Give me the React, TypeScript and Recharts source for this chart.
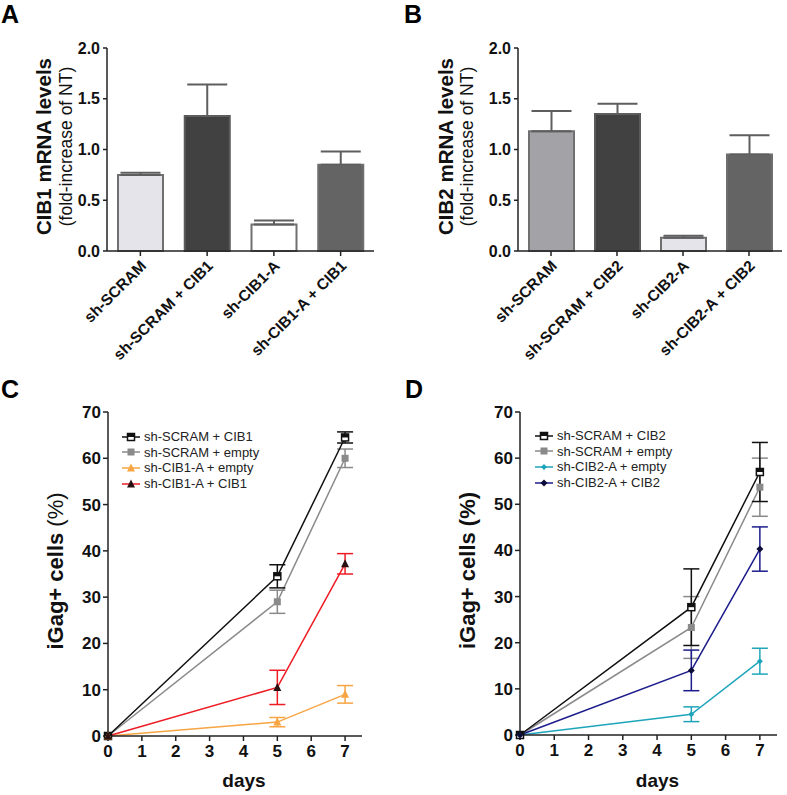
import React from 'react';
import { BarChart, Bar, Cell, XAxis, YAxis, ErrorBar, LineChart, Line } from 'recharts';

const FONT = '"Liberation Sans", Arial, Helvetica, sans-serif';

// Panel A - CIB1 mRNA
const cib1Groups = ['sh-SCRAM', 'sh-SCRAM + CIB1', 'sh-CIB1-A', 'sh-CIB1-A + CIB1'];
const cib1Levels = [0.75, 1.33, 0.26, 0.85];
const cib1Sem = [0.02, 0.31, 0.04, 0.13];
const cib1Fills = ['#e4e4ea', '#414141', '#ffffff', '#646464'];

// Panel B - CIB2 mRNA
const cib2Groups = ['sh-SCRAM', 'sh-SCRAM + CIB2', 'sh-CIB2-A', 'sh-CIB2-A + CIB2'];
const cib2Levels = [1.18, 1.35, 0.13, 0.95];
const cib2Sem = [0.2, 0.1, 0.02, 0.19];
const cib2Fills = ['#a2a2a7', '#414141', '#e4e4ea', '#646464'];

const mrnaTicks = [0, 0.5, 1, 1.5, 2];

// Panels C and D - iGag+ cells over time
const days = [0, 5, 7];
const dayTicks = [0, 1, 2, 3, 4, 5, 6, 7];
const pctTicks = [0, 10, 20, 30, 40, 50, 60, 70];

const cScramCib1 = [0, 34.5, 64.5];
const cScramCib1Err = [0, 2.5, 1.2];
const cScramEmpty = [0, 29, 60];
const cScramEmptyErr = [0, 2.5, 2];
const cCib1aEmpty = [0, 3, 9];
const cCib1aEmptyErr = [0, 1, 1.9];
const cCib1aCib1 = [0, 10.5, 37.2];
const cCib1aCib1Err = [0, 3.7, 2.2];

const dScramCib2 = [0, 27.7, 57];
const dScramCib2Err = [0, 8.3, 6.4];
const dScramEmpty = [0, 23.3, 53.7];
const dScramEmptyErr = [0, 6.7, 6.3];
const dCib2aEmpty = [0, 4.5, 16];
const dCib2aEmptyErr = [0, 1.6, 2.8];
const dCib2aCib2 = [0, 14, 40.3];
const dCib2aCib2Err = [0, 4.4, 4.8];

const barRows = (groups: string[], levels: number[], sem: number[]) =>
  groups.map((name, i) => ({ name, value: levels[i], err: [0, sem[i]] }));

const lineRows = (series: number[][]) =>
  days.map((day, i) => {
    const row: any = { day };
    series.forEach((vals, k) => {
      if (k % 2 === 0) row[`s${k / 2}`] = vals[i];
      else row[`s${(k - 1) / 2}e`] = vals[i];
    });
    return row;
  });

const cData = lineRows([
  cScramCib1, cScramCib1Err,
  cScramEmpty, cScramEmptyErr,
  cCib1aEmpty, cCib1aEmptyErr,
  cCib1aCib1, cCib1aCib1Err,
]);
const dData = lineRows([
  dScramCib2, dScramCib2Err,
  dScramEmpty, dScramEmptyErr,
  dCib2aEmpty, dCib2aEmptyErr,
  dCib2aCib2, dCib2aCib2Err,
]);

type Series = { key: string; name: string; line: string; marker: string; shape: string; size: number };

const cSeries: Series[] = [
  { key: 's0', name: 'sh-SCRAM + CIB1', line: '#111111', marker: '#111111', shape: 'openSquare', size: 7 },
  { key: 's1', name: 'sh-SCRAM + empty', line: '#8a8a8a', marker: '#8a8a8a', shape: 'square', size: 7 },
  { key: 's2', name: 'sh-CIB1-A + empty', line: '#f7a543', marker: '#f7a543', shape: 'triangle', size: 8 },
  { key: 's3', name: 'sh-CIB1-A + CIB1', line: '#ee1c24', marker: '#2a1010', shape: 'triangle', size: 8 },
];
const dSeries: Series[] = [
  { key: 's0', name: 'sh-SCRAM + CIB2', line: '#111111', marker: '#111111', shape: 'openSquare', size: 7 },
  { key: 's1', name: 'sh-SCRAM + empty', line: '#8a8a8a', marker: '#8a8a8a', shape: 'square', size: 7 },
  { key: 's2', name: 'sh-CIB2-A + empty', line: '#1fa5bb', marker: '#1fa5bb', shape: 'diamond', size: 6 },
  { key: 's3', name: 'sh-CIB2-A + CIB2', line: '#1c1c8c', marker: '#0d0d3a', shape: 'diamond', size: 7 },
];

function Marker({ shape, cx, cy, color, size }: any) {
  const h = size / 2;
  if (shape === 'openSquare') {
    return (
      <g>
        <rect x={cx - h} y={cy - h} width={size} height={size} fill="#fff" stroke={color} strokeWidth={1.5} />
        <rect x={cx - h} y={cy - h} width={size} height={h} fill={color} />
      </g>
    );
  }
  if (shape === 'square') {
    return <rect x={cx - h} y={cy - h} width={size} height={size} fill={color} />;
  }
  if (shape === 'triangle') {
    return <path d={`M${cx},${cy - h - 0.5} L${cx + h},${cy + h - 0.5} L${cx - h},${cy + h - 0.5} Z`} fill={color} />;
  }
  return <path d={`M${cx},${cy - h} L${cx + h},${cy} L${cx},${cy + h} L${cx - h},${cy} Z`} fill={color} />;
}

const barTick = { fill: '#111', fontSize: 16, fontWeight: 'bold', fontFamily: FONT };
const lineTick = { fill: '#111', fontSize: 17, fontWeight: 'bold', fontFamily: FONT };
const axisLine = { stroke: '#222', strokeWidth: 1.5 };

function SlantTick(props: any) {
  const { x, y, payload } = props;
  const tx = x + 3;
  const ty = y + 5;
  return (
    <text
      x={tx}
      y={ty}
      dy="0.35em"
      transform={`rotate(-45 ${tx} ${ty})`}
      textAnchor="end"
      fill="#111"
      fontSize={15.5}
      fontWeight="bold"
      fontFamily={FONT}
    >
      {payload.value}
    </text>
  );
}

function mrnaLabel(gene: string, boldX: number, regX: number) {
  return (props: any) => {
    const { viewBox } = props;
    const cy = viewBox.y + viewBox.height / 2 - 3;
    return (
      <g fontFamily={FONT} fill="#111">
        <text x={boldX} y={cy} transform={`rotate(-90 ${boldX} ${cy})`} textAnchor="middle" dominantBaseline="central" fontSize={20.5} fontWeight="bold">
          {gene} mRNA levels
        </text>
        <text x={regX} y={cy} transform={`rotate(-90 ${regX} ${cy})`} textAnchor="middle" dominantBaseline="central" fontSize={17.5}>
          (fold-increase of NT)
        </text>
      </g>
    );
  };
}

function pctLabel(x: number, boldPct: boolean) {
  return (props: any) => {
    const { viewBox } = props;
    const cy = viewBox.y + viewBox.height / 2 - 3;
    return (
      <text x={x} y={cy} transform={`rotate(-90 ${x} ${cy})`} textAnchor="middle" dominantBaseline="central" fontSize={22} fontWeight="bold" fontFamily={FONT} fill="#111">
        iGag+ cells <tspan fontWeight={boldPct ? 'bold' : 'normal'}>(%)</tspan>
      </text>
    );
  };
}

function daysLabel(props: any) {
  const { viewBox } = props;
  const cx = viewBox.x + viewBox.width / 2 + 9;
  const by = viewBox.y + viewBox.height - 8;
  return (
    <text x={cx} y={by} textAnchor="middle" fontSize={19} fontWeight="bold" fontFamily={FONT} fill="#111">
      days
    </text>
  );
}

function MrnaChart({ data, fills, strokes, gene, left, width, yWidth, marginRight, boldX, regX }: any) {
  return (
    <div style={{ position: 'absolute', left, top: 0 }}>
      <BarChart width={width} height={390} data={data} margin={{ top: 48, right: marginRight, bottom: 0, left: 0 }} barSize={45}>
        <XAxis dataKey="name" height={139} interval={0} tick={<SlantTick />} tickSize={5} tickMargin={2} axisLine={axisLine} tickLine={{ stroke: '#222', strokeWidth: 1.5 }} />
        <YAxis
          width={yWidth}
          domain={[0, 2]}
          ticks={mrnaTicks}
          tickFormatter={(v: number) => v.toFixed(1)}
          tick={barTick}
          tickSize={4}
          tickMargin={3}
          axisLine={axisLine}
          tickLine={{ stroke: '#222', strokeWidth: 1.5 }}
          label={{ content: mrnaLabel(gene, boldX, regX) }}
        />
        <Bar dataKey="value" isAnimationActive={false} strokeWidth={2}>
          {data.map((_: any, i: number) => (
            <Cell key={i} fill={fills[i]} stroke={strokes[i]} />
          ))}
          <ErrorBar dataKey="err" width={20} strokeWidth={2} stroke="#5e5e5e" direction="y" />
        </Bar>
      </BarChart>
    </div>
  );
}

function GrowthChart({ data, series, left, width, yWidth, marginRight, xHeight, labelX, boldPct }: any) {
  const order = [1, 0, 2, 3];
  return (
    <div style={{ position: 'absolute', left, top: 390 }}>
      <LineChart width={width} height={405} data={data} margin={{ top: 22, right: marginRight, bottom: 0, left: 0 }}>
        <XAxis
          dataKey="day"
          type="number"
          domain={[0, 7.5]}
          ticks={dayTicks}
          height={xHeight}
          tick={lineTick}
          tickSize={5}
          tickMargin={4}
          axisLine={axisLine}
          tickLine={{ stroke: '#222', strokeWidth: 1.5 }}
          label={{ content: daysLabel }}
        />
        <YAxis
          width={yWidth}
          domain={[0, 70]}
          ticks={pctTicks}
          tick={lineTick}
          tickSize={5}
          tickMargin={2}
          axisLine={axisLine}
          tickLine={{ stroke: '#222', strokeWidth: 1.5 }}
          label={{ content: pctLabel(labelX, boldPct) }}
        />
        {order.map((k) => {
          const s = series[k];
          return (
            <Line
              key={s.key}
              dataKey={s.key}
              name={s.name}
              stroke={s.line}
              strokeWidth={1.5}
              isAnimationActive={false}
              dot={(p: any) => <Marker key={`${s.key}-${p.index}`} shape={s.shape} cx={p.cx} cy={p.cy} color={s.marker} size={s.size} />}
              activeDot={false}
            >
              <ErrorBar dataKey={`${s.key}e`} width={8} strokeWidth={1.5} stroke={s.line} direction="y" />
            </Line>
          );
        })}
      </LineChart>
    </div>
  );
}

function LegendBox({ left, top, series }: any) {
  return (
    <div style={{ position: 'absolute', left, top, fontFamily: FONT, fontSize: 13, color: '#222' }}>
      {series.map((s: Series) => (
        <div key={s.key} style={{ display: 'flex', alignItems: 'center', height: 15.6 }}>
          <svg width={22} height={12} style={{ marginRight: 1 }}>
            <line x1={1} x2={19} y1={6} y2={6} stroke={s.line} strokeWidth={1.5} />
            <Marker shape={s.shape} cx={10} cy={6} color={s.marker} size={s.size} />
          </svg>
          <span>{s.name}</span>
        </div>
      ))}
    </div>
  );
}

const panelLetter = { position: 'absolute' as const, fontFamily: FONT, fontSize: 25, fontWeight: 'bold' as const, lineHeight: '28px', color: '#000' };

export default function App() {
  return (
    <div style={{ position: 'absolute', left: 0, top: 0, width: 787, height: 795, background: '#fff', overflow: 'hidden' }}>
      <MrnaChart
        data={barRows(cib1Groups, cib1Levels, cib1Sem)}
        fills={cib1Fills}
        strokes={['#707070', '#5a5a5a', '#707070', '#6e6e6e']}
        gene="CIB1"
        left={0}
        width={390}
        yWidth={107}
        marginRight={16}
        boldX={43}
        regX={66}
      />
      <MrnaChart
        data={barRows(cib2Groups, cib2Levels, cib2Sem)}
        fills={cib2Fills}
        strokes={['#707070', '#5a5a5a', '#707070', '#6e6e6e']}
        gene="CIB2"
        left={390}
        width={397}
        yWidth={128}
        marginRight={5}
        boldX={55}
        regX={77}
      />
      <GrowthChart data={cData} series={cSeries} left={0} width={390} yWidth={108} marginRight={28} xHeight={59} labelX={55} boldPct={false} />
      <GrowthChart data={dData} series={dSeries} left={390} width={397} yWidth={130} marginRight={10} xHeight={60} labelX={77} boldPct={true} />
      <LegendBox left={121} top={429} series={cSeries} />
      <LegendBox left={534} top={428} series={dSeries} />
      <div style={{ ...panelLetter, left: 1, top: 0 }}>A</div>
      <div style={{ ...panelLetter, left: 404, top: 0 }}>B</div>
      <div style={{ ...panelLetter, left: 1, top: 375 }}>C</div>
      <div style={{ ...panelLetter, left: 405, top: 375 }}>D</div>
    </div>
  );
}
